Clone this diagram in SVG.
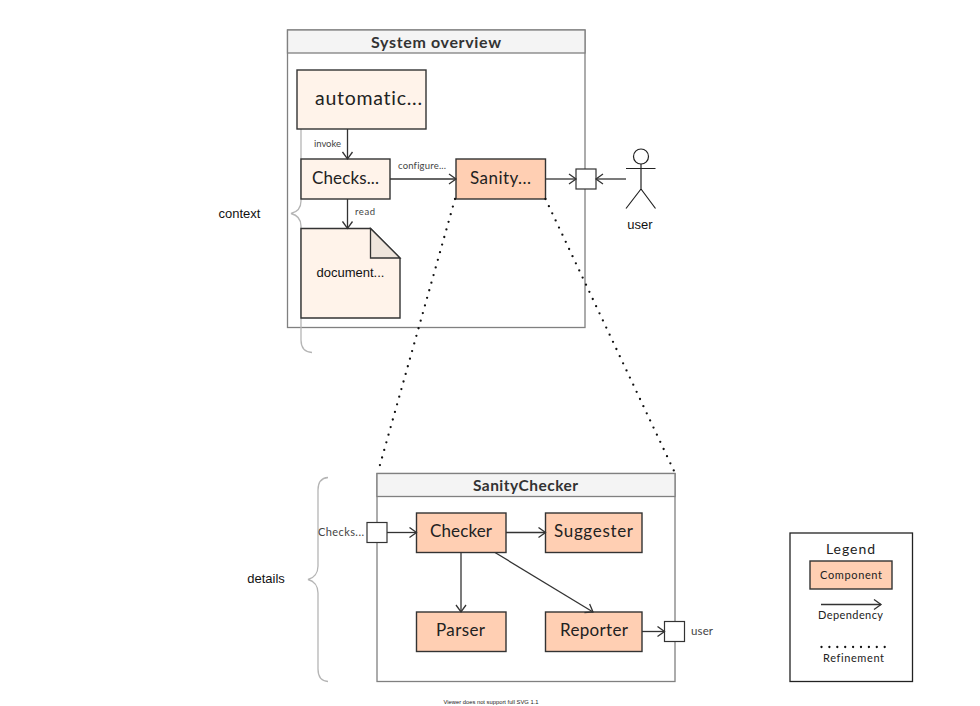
<svg xmlns="http://www.w3.org/2000/svg" width="980" height="706" viewBox="0 0 980 706">
<style>
text{font-family:"Lato","Noto Sans",sans-serif;fill:#222;text-anchor:middle;font-variant-ligatures:none}
.a{font-family:"Liberation Sans",Arial,sans-serif;fill:#111;font-size:13px}
.frame{fill:#fff;stroke:#808080;stroke-width:1.3}
.band{fill:#f4f4f4;stroke:#808080;stroke-width:1.3}
.ctx{fill:#fff3ea;stroke:#333;stroke-width:1.4}
.cmp{fill:#ffcfb3;stroke:#333;stroke-width:1.4}
.port{fill:#fff;stroke:#333;stroke-width:1.2}
.l{fill:none;stroke:#333;stroke-width:1.3}
.dots{fill:none;stroke:#111;stroke-width:2.3;stroke-linecap:round;stroke-dasharray:0 7.9}
.brace{fill:none;stroke:#b5b5b5;stroke-width:1.3}
.t{font-size:17px}
.h{font-size:16px;font-weight:700;fill:#333}
.s{font-size:9.5px;fill:#444}
.m{font-size:11px}
</style>
<defs><marker id="arr" markerWidth="10" markerHeight="12" refX="8" refY="5" orient="auto" markerUnits="userSpaceOnUse" viewBox="0 0 10 10"><path d="M1 0L8 5L1 10" fill="none" stroke="#333" stroke-width="1.3"/></marker></defs>
<g id="frame-system"><rect class="frame" x="287.5" y="30" width="297.5" height="297.5"/><rect class="band" x="287.5" y="30" width="297.5" height="23"/><text class="h" x="436" y="48" textLength="130">System overview</text></g>
<g id="brace-context"><path class="brace" d="M312 352.500C305 352 301 348 301 340V226C301 219 297 215 291 213.500C297 212 301 208 301 201V125"/><text class="a" x="239.500" y="218">context</text></g>
<g id="automatic"><rect class="ctx" x="297" y="70" width="129" height="59"/><text class="t" x="368.500" y="104.500" textLength="107" style="font-size:19.500px">automatic...</text></g>
<g id="checks"><rect class="ctx" x="301" y="159" width="89" height="40"/><text class="t" x="345.500" y="184" textLength="67">Checks...</text></g>
<g id="sanity"><rect class="cmp" x="456" y="159" width="89.500" height="40"/><text class="t" x="500.500" y="184" textLength="61">Sanity...</text></g>
<g id="document"><path class="ctx" d="M301 228.500H370.500L400 258V318H301Z"/><path d="M370.500 228.500L400 258H370.500Z" fill="#efe5dc" stroke="#333" stroke-width="1.300"/><text class="a" x="350.500" y="277">document...</text></g>
<g id="port-user"><rect class="port" x="576" y="169" width="20" height="20"/></g>
<g id="actor-user" fill="none" stroke="#222" stroke-width="1.200"><circle cx="641" cy="156.500" r="7.500"/><path d="M641 164V189M626 168.500H655.500M641 189L626 208.500M641 189L655.500 208.500"/><text class="a" x="640" y="229" stroke="none">user</text></g>
<g id="frame-sanity"><rect class="frame" x="377" y="473.500" width="298" height="208"/><rect class="band" x="377" y="473.500" width="298" height="23"/><text class="h" x="525.500" y="491" textLength="105" style="font-size:15.5px">SanityChecker</text></g>
<g id="brace-details"><path class="brace" d="M328 477.500C321 478 318 482 318 490V566C318 573 314 578 308 579.500C314 581 318 586 318 593V669C318 677 321 681 328 681.500"/><text class="a" x="266" y="583">details</text></g>
<g id="checker"><rect class="cmp" x="416.500" y="513" width="89.500" height="39.500"/><text class="t" x="461" y="537" textLength="62">Checker</text></g>
<g id="suggester"><rect class="cmp" x="545.500" y="513" width="96.500" height="39.500"/><text class="t" x="593.500" y="537" textLength="79">Suggester</text></g>
<g id="parser"><rect class="cmp" x="416.500" y="612" width="89.500" height="39.500"/><text class="t" x="460.500" y="636" textLength="49">Parser</text></g>
<g id="reporter"><rect class="cmp" x="545.500" y="612" width="96.500" height="39.500"/><text class="t" x="594" y="636" textLength="68">Reporter</text></g>
<g id="port-checks"><rect class="port" x="367" y="522.500" width="20" height="20"/><text class="s" x="341" y="536" textLength="46" style="font-size:11px">Checks...</text></g>
<g id="port-reporter"><rect class="port" x="664.500" y="621.500" width="20" height="20"/><text class="s" x="702" y="635" textLength="22" style="font-size:11.500px">user</text></g>
<g id="legend"><rect x="790" y="533" width="122.500" height="148.500" fill="#fff" stroke="#222" stroke-width="1.300"/><text x="850.500" y="554" font-size="14" textLength="49">Legend</text><rect class="cmp" x="810" y="561" width="82" height="28"/><text class="m" x="851" y="579" textLength="62">Component</text><path class="l" d="M821 604.500H881" marker-end="url(#arr)"/><text class="m" x="850.500" y="619" textLength="65">Dependency</text><path class="dots" d="M821.500 647H887"/><text class="m" x="853.500" y="662" textLength="61">Refinement</text></g>
<g id="connectors">
<path class="l" d="M347.500 129V159" marker-end="url(#arr)"/>
<path class="l" d="M347.500 199V228.500" marker-end="url(#arr)"/>
<path class="l" d="M390 179H456" marker-end="url(#arr)"/>
<path class="l" d="M545.500 179H576" marker-end="url(#arr)"/>
<path class="l" d="M626 179H596" marker-end="url(#arr)"/>
<path class="l" d="M387 532.500H416.500" marker-end="url(#arr)"/>
<path class="l" d="M506 532.500H545.500" marker-end="url(#arr)"/>
<path class="l" d="M461 552.500V612" marker-end="url(#arr)"/>
<path class="l" d="M495 552.500L593 612" marker-end="url(#arr)"/>
<path class="l" d="M642 631.500H664.500" marker-end="url(#arr)"/>
<path class="dots" d="M455 199L378 472"/>
<path class="dots" d="M545.500 199L674.500 472"/>
<text class="s" x="327.500" y="147" textLength="27">invoke</text>
<text class="s" x="365" y="215" textLength="20">read</text>
<text class="s" x="422" y="169" textLength="48">configure...</text>
</g>
<text x="491" y="704" font-size="5.800" fill="#333" style="font-family:'Liberation Sans',sans-serif">Viewer does not support full SVG 1.1</text>
</svg>
